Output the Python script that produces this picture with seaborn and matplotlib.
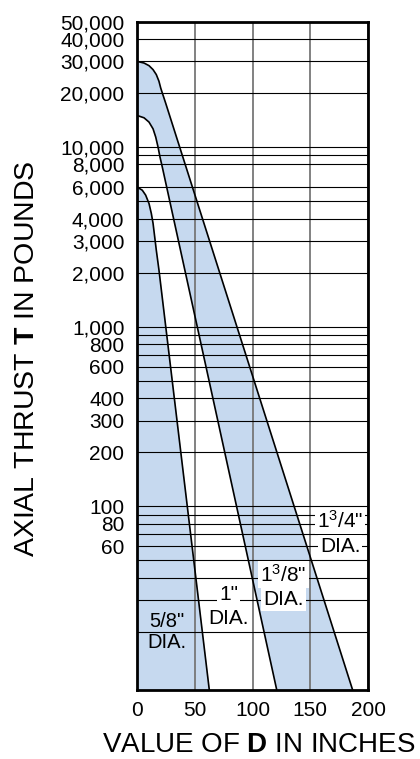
import matplotlib
matplotlib.use("Agg")
import matplotlib.pyplot as plt
import seaborn as sns
from matplotlib.ticker import FixedLocator, FixedFormatter, NullLocator

# ---------------- data ----------------
# boundary curves: value of D (inches) vs axial thrust T (pounds)
curve_58_d = [0, 4.6, 7.5, 10.4, 12.4, 13.9, 15.3, 16.7, 19.0, 62.6]
curve_58_t = [6000, 5750, 5400, 4850, 4270, 3760, 3170, 2670, 2070, 9.5]

curve_1_d = [0, 6.1, 10.4, 13.9, 16.2, 18.2, 19.9, 21.9, 121.0]
curve_1_t = [15000, 14550, 13770, 12630, 11370, 10010, 8800, 7740, 9.5]

curve_138_d = [0, 6.1, 10.4, 13.9, 16.7, 19.0, 20.5, 21.9, 24.8, 186.7]
curve_138_t = [30000, 29360, 28390, 26980, 25330, 23260, 21350, 20020, 17580, 9.5]

x_ticks = [0, 50, 100, 150, 200]
y_grid = [50000, 40000, 30000, 20000, 10000, 9000, 8000, 6000, 5000, 4000,
          3000, 2000, 1000, 900, 800, 700, 600, 500, 400, 300, 200,
          100, 90, 80, 70, 60, 50, 40, 30, 20]
y_labeled = [50000, 40000, 30000, 20000, 10000, 8000, 6000, 4000, 3000,
             2000, 1000, 800, 600, 400, 300, 200, 100, 80, 60]

# ---------------- style ----------------
sns.set_theme(style="white")
plt.rcParams["font.family"] = ["Liberation Sans", "DejaVu Sans"]
plt.rcParams["mathtext.fontset"] = "custom"
plt.rcParams["mathtext.rm"] = "Liberation Sans"
plt.rcParams["mathtext.it"] = "Liberation Sans"
plt.rcParams["mathtext.bf"] = "Liberation Sans:bold"

BLUE = "#c6d9ef"

fig = plt.figure(figsize=(4.2, 7.59), dpi=100)
ax = fig.add_axes([137 / 420, 1 - 690 / 759, 231 / 420, (690 - 21.5) / 759])
ax.set_yscale("log")

# shaded bands
ax.fill_betweenx(curve_58_t, 0, curve_58_d, color=BLUE, lw=0, zorder=1)
ax.fill(curve_138_d + curve_1_d[::-1], curve_138_t + curve_1_t[::-1],
        color=BLUE, lw=0, zorder=1)

# boundary lines
for xs, ys in [(curve_58_d, curve_58_t), (curve_1_d, curve_1_t),
               (curve_138_d, curve_138_t)]:
    sns.lineplot(x=xs, y=ys, sort=False, estimator=None, color="black",
                 lw=1.2, ax=ax, zorder=3)

ax.set_xlim(0, 200)
ax.set_ylim(9.5, 50000)

# ticks / grid
ax.xaxis.set_major_locator(FixedLocator(x_ticks))
ax.xaxis.set_major_formatter(FixedFormatter([str(v) for v in x_ticks]))
ys_sorted = sorted(y_grid)
ax.yaxis.set_major_locator(FixedLocator(ys_sorted))
ax.yaxis.set_major_formatter(FixedFormatter(
    [f"{v:,}" if v in y_labeled else "" for v in ys_sorted]))
ax.yaxis.set_minor_locator(NullLocator())
ax.xaxis.set_minor_locator(NullLocator())
ax.set_axisbelow(False)
ax.grid(axis="y", which="major", color="black", lw=0.8)
ax.grid(axis="x", which="major", color="#777777", lw=1.3)
ax.tick_params(axis="y", length=0, pad=9, labelsize=15, labelcolor="black")
ax.tick_params(axis="x", length=0, pad=8, labelsize=15, labelcolor="black")
ax.set_xlabel("")
ax.set_ylabel("")

for s in ax.spines.values():
    s.set_visible(True)
    s.set_color("black")
    s.set_linewidth(2.0)
    s.set_zorder(6)

# band labels
lab_kw = dict(ha="center", va="baseline", fontsize=15, color="black", zorder=5)
box = dict(facecolor="white", edgecolor="none", pad=1.5)
ax.text(26.0, 21.3, '5/8"', fontsize=14.5,
        **{k: v for k, v in lab_kw.items() if k != "fontsize"})
ax.text(26.0, 16.3, "DIA.", fontsize=14.5,
        **{k: v for k, v in lab_kw.items() if k != "fontsize"})
ax.text(79.2, 30.2, '1"', bbox=box, **lab_kw)
ax.text(79.2, 22.2, "DIA.", bbox=box, **lab_kw)
ax.text(126.7, 38.2, r'1$^{\mathrm{3}}$/8"', bbox=box, **lab_kw)
ax.text(126.7, 28.3, "DIA.", bbox=box, **lab_kw)
ax.text(175.8, 75.6, r'1$^{\mathrm{3}}$/4"', bbox=box, **lab_kw)
ax.text(175.8, 56.0, "DIA.", bbox=box, **lab_kw)

# axis titles
fig.text(27 / 420, 1 - 359 / 759, r"AXIAL THRUST $\mathbf{T}$ IN POUNDS",
         rotation=90, ha="center", va="center", fontsize=20.5, color="black")
fig.text(259 / 420, 1 - 745.5 / 759, r"VALUE OF $\mathbf{D}$ IN INCHES",
         ha="center", va="center", fontsize=20, color="black")

fig.savefig("out.png", dpi=100)
